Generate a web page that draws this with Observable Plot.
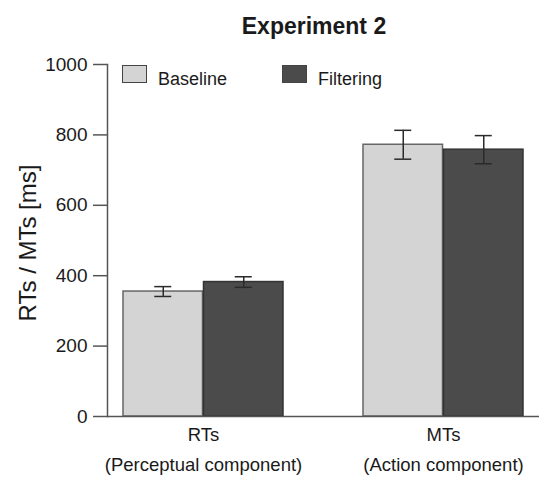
<!DOCTYPE html>
<html>
<head>
<meta charset="utf-8">
<script src="https://cdn.jsdelivr.net/npm/d3@7"></script>
<script src="https://cdn.jsdelivr.net/npm/@observablehq/plot@0.6"></script>
<style>
  body { margin: 0; background: #fff; font-family: "Liberation Sans", Arial, sans-serif; color: #1a1a1a; }
  #wrap { position: relative; width: 539px; height: 477px; }
  #chart { position: absolute; left: 0; top: 0; }
  #title { position: absolute; left: 0; top: 15px; width: 628px; text-align: center; font-weight: bold; font-size: 23px; line-height: 23px; }
  .sw { position: absolute; box-sizing: border-box; width: 25px; height: 18px; border: 1.5px solid #444; }
  .lt { position: absolute; font-size: 18px; line-height: 18px; }
</style>
</head>
<body>
<div id="wrap">
  <div id="chart"></div>
  <div id="title"></div>
</div>
<script>
// ---- data ----
const categories = ["RTs", "MTs"];
const categoryNotes = ["(Perceptual component)", "(Action component)"];
const groups = ["Baseline", "Filtering"];
const groupColors = ["#d4d4d4", "#4b4b4b"];
const baselineMeans = [355, 772];
const baselineErrors = [14, 41];
const filteringMeans = [382, 758];
const filteringErrors = [15, 40];
const yTicks = [0, 200, 400, 600, 800, 1000];
const yLabel = "RTs / MTs [ms]";
const titleText = "Experiment 2";

// ---- table ----
const rows = [];
categories.forEach((c, i) => {
  rows.push({cat: c, group: groups[0], mean: baselineMeans[i], err: baselineErrors[i]});
  rows.push({cat: c, group: groups[1], mean: filteringMeans[i], err: filteringErrors[i]});
});
const ends = rows.flatMap(d => [{...d, v: d.mean - d.err}, {...d, v: d.mean + d.err}]);

// ---- layout ----
const W = 539, H = 477, ML = 107, MR = 0, MT = 64, MB = 61;
const pIn = 0.332, pOut = 0.0623;
const step = (W - ML - MR) / (categories.length - pIn + 2 * pOut);
const bw = step * (1 - pIn);
const half = bw / 2;
const capHalf = 9;

const barStrokes = ["#666", "#333"];
const marks = [];
groups.forEach((g, gi) => {
  const sub = rows.filter(d => d.group === g);
  const subEnds = ends.filter(d => d.group === g);
  const dx = gi === 0 ? -half / 2 : half / 2;
  marks.push(Plot.barY(sub, {
    x: "cat", y: "mean", fill: "group",
    stroke: barStrokes[gi], strokeWidth: 1.5,
    insetLeft: gi === 0 ? 0 : half, insetRight: gi === 0 ? half : 0
  }));
  marks.push(Plot.ruleX(sub, {x: "cat", y1: d => d.mean - d.err, y2: d => d.mean + d.err, dx, stroke: "#2a2a2a", strokeWidth: 1.5}));
  marks.push(Plot.tickY(subEnds, {x: "cat", y: "v", dx, insetLeft: half - capHalf, insetRight: half - capHalf, stroke: "#2a2a2a", strokeWidth: 1.5}));
});

const chart = Plot.plot({
  width: W, height: H,
  marginLeft: ML, marginRight: MR, marginTop: MT, marginBottom: MB,
  style: {fontFamily: '"Liberation Sans", Arial, sans-serif', fontSize: "18px", color: "#1a1a1a", background: "transparent"},
  x: {domain: categories, paddingInner: pIn, paddingOuter: pOut, axis: null},
  y: {domain: [0, 1000]},
  color: {domain: groups, range: groupColors},
  marks: [
    ...marks,
    Plot.ruleY([0], {stroke: "#555", strokeWidth: 1.5}),
    Plot.frame({anchor: "left", stroke: "#555", strokeWidth: 1.5}),
    Plot.axisY({ticks: yTicks, tickSize: 14, tickFormat: () => "", label: null, stroke: "#555", strokeWidth: 1.5}),
    Plot.text(yTicks, {y: d => d, text: d => String(d), frameAnchor: "left", textAnchor: "end", dx: -20, fontSize: 19}),
    Plot.text(categories, {x: d => d, frameAnchor: "bottom", dy: 24, fontSize: 18.5}),
    Plot.text(categories, {x: d => d, text: (d, i) => categoryNotes[i], frameAnchor: "bottom", dy: 54, fontSize: 18.5}),
    Plot.text([yLabel], {frameAnchor: "left", textAnchor: "middle", rotate: -90, dx: -79.5, dy: 2.5, fontSize: 24})
  ]
});
document.getElementById("chart").appendChild(chart);
document.getElementById("title").textContent = titleText;

// ---- legend ----
const legendPos = [[122, 158], [282, 318]];
const wrap = document.getElementById("wrap");
groups.forEach((g, i) => {
  const sw = document.createElement("div");
  sw.className = "sw";
  sw.style.left = legendPos[i][0] + "px";
  sw.style.top = "65px";
  sw.style.background = groupColors[i];
  wrap.appendChild(sw);
  const t = document.createElement("div");
  t.className = "lt";
  t.style.left = legendPos[i][1] + "px";
  t.style.top = "70px";
  t.textContent = g;
  wrap.appendChild(t);
});
</script>
</body>
</html>
